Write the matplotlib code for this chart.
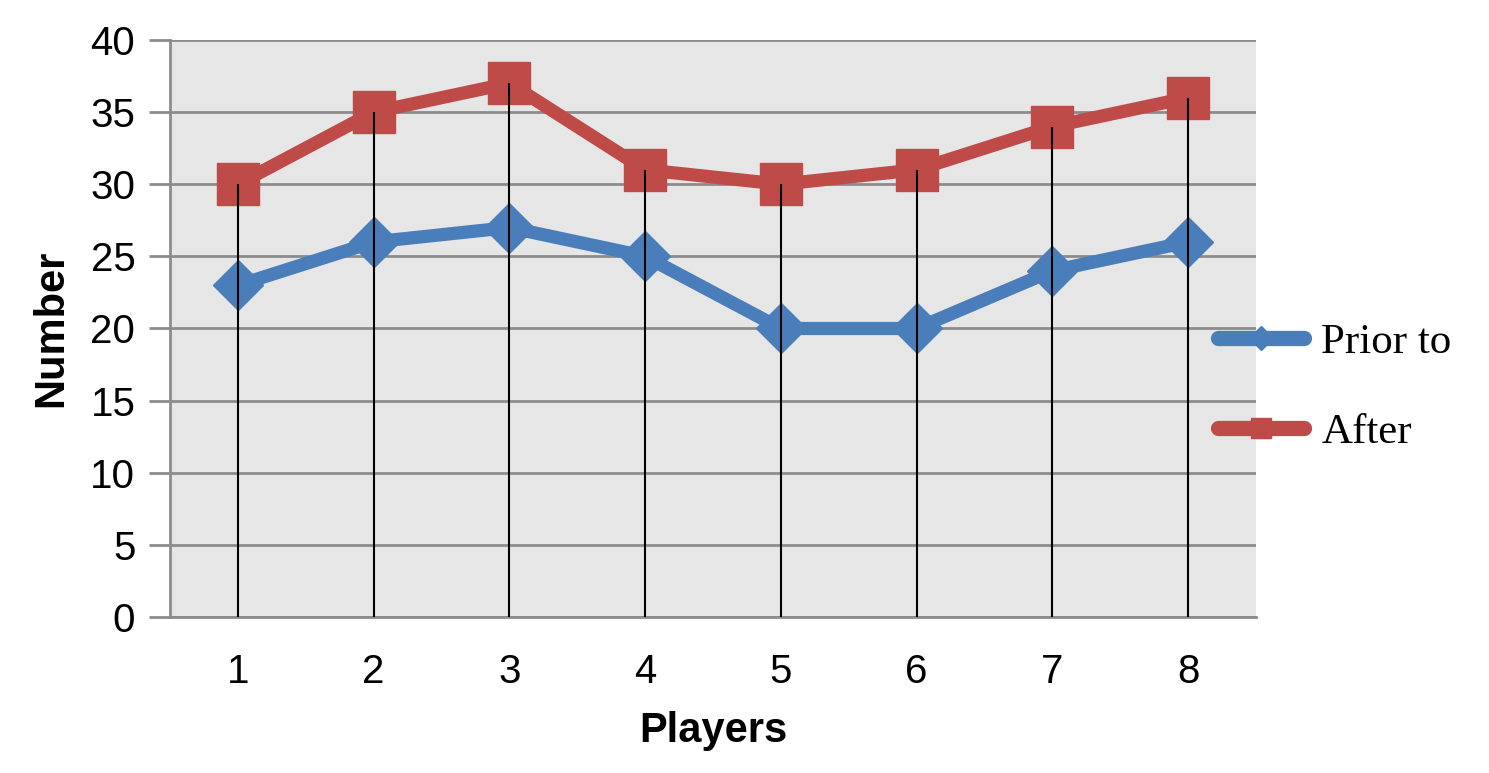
import matplotlib.pyplot as plt

# datos
players = [1, 2, 3, 4, 5, 6, 7, 8]
prior_to = [23, 26, 27, 25, 20, 20, 24, 26]
after = [30, 35, 37, 31, 30, 31, 34, 36]

blue = '#4a7ebb'
red = '#be4b48'
grey = '#8c8c8c'

fig = plt.figure(figsize=(14.89, 7.73), dpi=100)
ax = fig.add_axes([0.1142, 0.2018, 0.7293, 0.7465])
ax.set_facecolor('#e6e6e6')

ax.plot(players, prior_to, color=blue, lw=9.5, marker='D', markersize=25,
        solid_capstyle='round', label='Prior to', zorder=3)
ax.plot(players, after, color=red, lw=9.5, marker='s', markersize=30,
        solid_capstyle='round', label='After', zorder=3)

# lineas verticales hasta cero
ax.vlines(players, 0, after, color='black', lw=1.5, zorder=4)

ax.set_xlim(0.5, 8.5)
ax.set_ylim(0, 40)
ax.set_yticks(range(0, 41, 5))
ax.set_xticks(players)
ax.yaxis.grid(True, color=grey, lw=2)
ax.set_axisbelow(True)

for s in ['top', 'right']:
    ax.spines[s].set_visible(False)
for s in ['left', 'bottom']:
    ax.spines[s].set_color(grey)
    ax.spines[s].set_linewidth(2)

ax.tick_params(axis='y', length=15, width=2, color=grey, direction='out',
               labelsize=29, pad=10)
ax.tick_params(axis='x', length=0, labelsize=29, pad=26)
for lab in ax.get_xticklabels() + ax.get_yticklabels():
    lab.set_family('Liberation Sans')

ax.set_xlabel('Players', fontsize=30, fontweight='bold', family='Liberation Sans', labelpad=14)
ax.set_ylabel('Number', fontsize=30, fontweight='bold', family='Liberation Sans', labelpad=14)

leg = fig.legend(loc='center left', bbox_to_anchor=(0.818, 0.4987), frameon=False,
                 prop={'family': 'Liberation Serif', 'size': 31}, handlelength=2.0,
                 labelspacing=1.2, markerscale=0.5, handletextpad=0.4,
                 borderpad=0, borderaxespad=0)
for h in leg.get_lines():
    h.set_linewidth(11)

plt.savefig('out.png', dpi=100)
